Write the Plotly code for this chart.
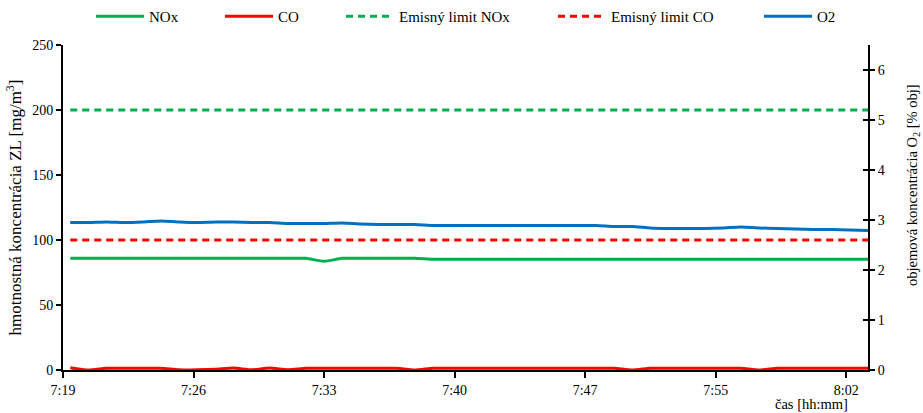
import plotly.graph_objects as go

# time stamps of the measurements (one per minute)
times = ["07:19:24", "07:20:24", "07:21:24", "07:22:24", "07:23:24", "07:24:24", "07:25:24",
         "07:26:24", "07:27:24", "07:28:24", "07:29:24", "07:30:24", "07:31:24", "07:32:24",
         "07:33:24", "07:34:24", "07:35:24", "07:36:24", "07:37:24", "07:38:24", "07:39:24",
         "07:40:24", "07:41:24", "07:42:24", "07:43:24", "07:44:24", "07:45:24", "07:46:24",
         "07:47:24", "07:48:24", "07:49:24", "07:50:24", "07:51:24", "07:52:24", "07:53:24",
         "07:54:24", "07:55:24", "07:56:24", "07:57:24", "07:58:24", "07:59:24", "08:00:24",
         "08:01:24", "08:02:24", "08:03:24"]

nox = [85.9, 85.9, 85.9, 85.9, 85.9, 85.9, 85.9, 85.9, 85.9, 85.9, 85.9, 85.9, 85.9, 85.9,
       83.6, 85.9, 85.9, 85.9, 85.9, 85.9, 85.2, 85.2, 85.2, 85.2, 85.2, 85.2, 85.2, 85.2,
       85.2, 85.2, 85.2, 85.2, 85.2, 85.2, 85.2, 85.2, 85.2, 85.2, 85.2, 85.2, 85.2, 85.2,
       85.2, 85.2, 85.2]

co = [1.8, 0.0, 1.3, 1.4, 1.4, 1.3, 0.2, 0.1, 0.5, 1.5, 0.2, 1.5, 0.2, 1.3, 1.3, 1.3,
      1.3, 1.3, 1.3, 0.0, 1.3, 1.3, 1.3, 1.3, 1.3, 1.3, 1.3, 1.3, 1.3, 1.3, 1.3, 0.0,
      1.3, 1.3, 1.3, 1.3, 1.3, 1.3, 0.0, 1.3, 1.3, 1.3, 1.3, 1.3, 1.3]

o2 = [2.95, 2.95, 2.96, 2.95, 2.96, 2.98, 2.96, 2.95, 2.96, 2.96, 2.95, 2.95, 2.93, 2.93,
      2.93, 2.94, 2.92, 2.91, 2.91, 2.91, 2.89, 2.89, 2.89, 2.89, 2.89, 2.89, 2.89, 2.89,
      2.89, 2.89, 2.87, 2.87, 2.84, 2.83, 2.83, 2.83, 2.84, 2.86, 2.84, 2.83, 2.82, 2.81,
      2.81, 2.80, 2.79]

limit_nox = 200
limit_co = 100

x_tick_times = ["07:19:00", "07:26:12", "07:33:24", "07:40:36", "07:47:48", "07:55:00", "08:02:12"]
x_tick_labels = ["7:19", "7:26", "7:33", "7:40", "7:47", "7:55", "8:02"]
x_range = ["07:19:00", "08:03:24"]

day = "2024-01-01 "
xs = [day + t for t in times]

FONT = "Liberation Serif"
GREEN = "#00B050"
RED = "#FF0000"
BLUE = "#0070C0"
W, H = 923, 413
ML, MR, MT, MB = 63, 55, 45, 43
PW, PH = W - ML - MR, H - MT - MB

fig = go.Figure()
fig.add_trace(go.Scatter(x=xs, y=nox, name="NOx", mode="lines", legend="legend",
                         line=dict(color=GREEN, width=3, shape="spline", smoothing=0.6)))
fig.add_trace(go.Scatter(x=xs, y=co, name="CO", mode="lines", legend="legend2",
                         line=dict(color=RED, width=3, shape="spline", smoothing=0.6)))
fig.add_trace(go.Scatter(x=xs, y=[limit_nox] * len(xs), name="Emisný limit NOx", mode="lines",
                         legend="legend3", line=dict(color=GREEN, width=3, dash="7px,5px")))
fig.add_trace(go.Scatter(x=xs, y=[limit_co] * len(xs), name="Emisný limit CO", mode="lines",
                         legend="legend4", line=dict(color=RED, width=3, dash="7px,5px")))
fig.add_trace(go.Scatter(x=xs, y=o2, name="O2", mode="lines", yaxis="y2", legend="legend5",
                         line=dict(color=BLUE, width=3, shape="spline", smoothing=0.6)))

# invisible trace so the overlay axis (cross ticks on the right axis) is drawn
fig.add_trace(go.Scatter(x=[xs[0]], y=[0], yaxis="y3", mode="markers",
                         marker=dict(opacity=0), showlegend=False, hoverinfo="skip"))


def leg(px):
    return dict(orientation="h", x=px / W, xref="container", xanchor="left",
                y=1.0, yref="container", yanchor="top", bgcolor="rgba(0,0,0,0)",
                font=dict(family=FONT, size=15, color="black"), itemwidth=48)


fig.update_layout(
    width=W, height=H,
    margin=dict(l=ML, r=MR, t=MT, b=MB, autoexpand=False),
    paper_bgcolor="white", plot_bgcolor="white",
    font=dict(family=FONT, size=14, color="black"),
    showlegend=True,
    legend=leg(91), legend2=leg(220), legend3=leg(341), legend4=leg(553), legend5=leg(759),
    xaxis=dict(type="date", range=[day + x_range[0], day + x_range[1]], automargin=False,
               tickmode="array", tickvals=[day + t for t in x_tick_times],
               ticktext=x_tick_labels, ticks="outside", ticklen=6, tickwidth=1.5,
               tickcolor="black", showline=True, linecolor="black", linewidth=2,
               showgrid=False, zeroline=False, tickfont=dict(family=FONT, size=14),
               minor=dict(tickmode="linear", tick0=day + x_range[0], dtick=86400000,
                          ticks="outside", ticklen=4, tickwidth=1.5, tickcolor="black",
                          showgrid=False)),
    yaxis=dict(range=[0, 250], dtick=50, ticks="outside", ticklen=5, tickwidth=1.5,
               automargin=False,
               tickcolor="black", showline=True, linecolor="black", linewidth=2,
               showgrid=False, zeroline=False, tickfont=dict(family=FONT, size=14),
               title=dict(text="hmotnostná koncentrácia ZL [mg/m<sup>3</sup>]",
                          font=dict(family=FONT, size=17), standoff=6)),
    yaxis2=dict(range=[0, 6.5], dtick=1, overlaying="y", side="right", anchor="x",
                automargin=False,
                ticks="outside", ticklen=5, tickwidth=1.5, tickcolor="black",
                showline=True, linecolor="black", linewidth=2, showgrid=False,
                zeroline=False, tickfont=dict(family=FONT, size=14)),
    yaxis3=dict(range=[0, 6.5], dtick=1, overlaying="y", side="right", anchor="x",
                automargin=False,
                ticks="inside", ticklen=5, tickwidth=1.5, tickcolor="black",
                showticklabels=False, showline=False, showgrid=False, zeroline=False),
    annotations=[
        dict(text="čas [hh:mm]", x=(850 - ML) / PW, xref="paper", xanchor="right",
             y=0, yref="paper", yanchor="top", yshift=-24,
             showarrow=False, font=dict(family=FONT, size=14.5)),
        dict(text="objemová koncentrácia O<sub>2</sub> [% obj]", textangle=-90,
             x=(913 - ML) / PW, xref="paper", xanchor="center",
             y=(H - MB - 185) / PH, yref="paper", yanchor="middle",
             showarrow=False, font=dict(family=FONT, size=14.5)),
    ],
)

fig.write_html("out.html", config={"displayModeBar": False},
               post_script="document.body.style.margin='0';")
